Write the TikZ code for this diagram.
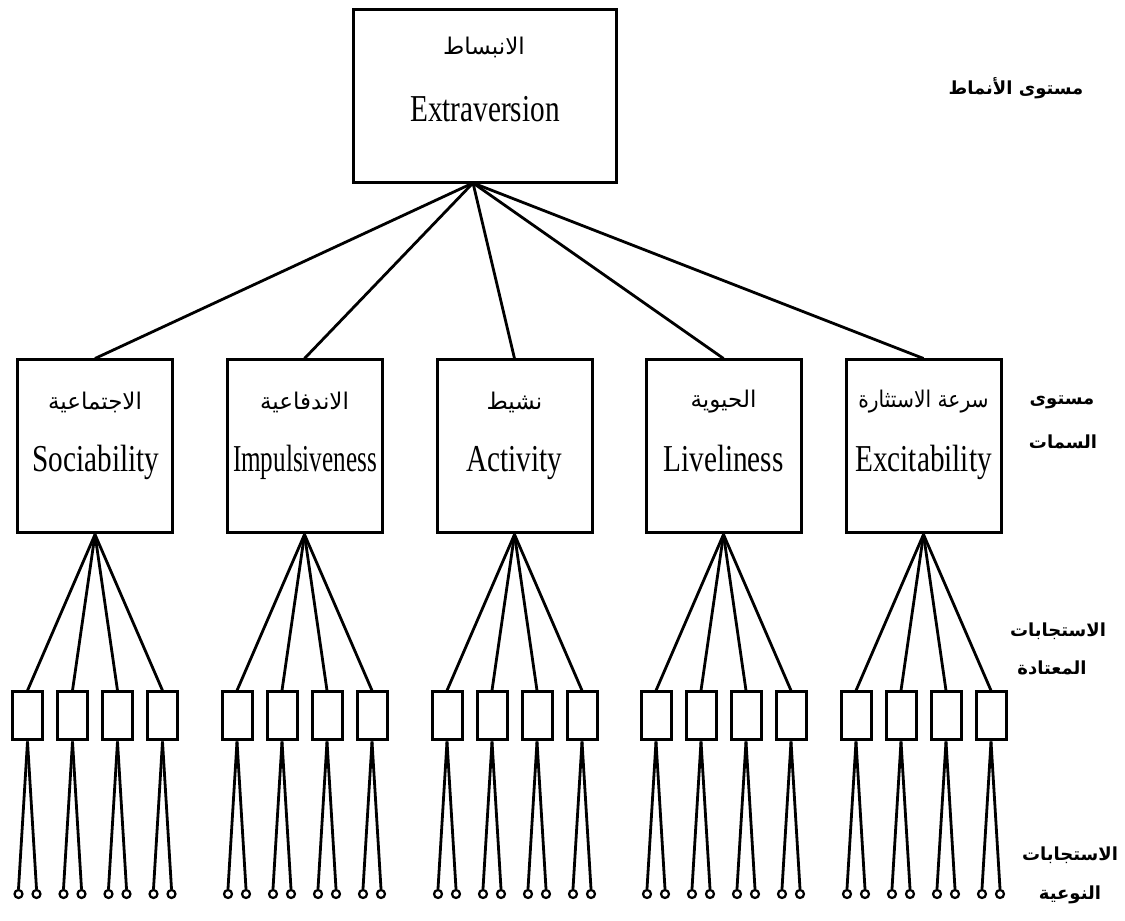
\documentclass[tikz,border=0pt]{standalone}
\usepackage{fontspec}
\usepackage{graphicx}
\TeXXeTstate=1
\newfontfamily\arabicfont[Script=Arabic]{DejaVu Sans}
\newfontfamily\engfont[FakeStretch=0.77]{Liberation Serif}
\tikzset{
  bigbox/.style={draw, line width=3pt, minimum width=263pt, minimum height=173pt, inner sep=0pt},
  traitbox/.style={draw, line width=3pt, minimum width=155pt, minimum height=173pt, inner sep=0pt},
  smallbox/.style={draw, line width=3pt, minimum width=30pt, minimum height=48pt, inner sep=0pt},
  leaf/.style={draw, circle, line width=2.2pt, minimum size=8pt, inner sep=0pt},
  conn/.style={line width=2.8pt},
  ar/.style={font=\arabicfont\fontsize{23}{27}\selectfont, inner sep=0pt},
  en/.style={font=\engfont\fontsize{38}{42}\selectfont, inner sep=0pt, anchor=base},
  lab/.style={font=\arabicfont\bfseries\fontsize{18}{22}\selectfont, inner sep=0pt}
}
\begin{document}
\begin{tikzpicture}[x=1pt,y=1pt]
\useasboundingbox (0,0) rectangle (1125,921);
\fill[white] (0,0) rectangle (1125,921);
% top level
\node[bigbox] (top) at (484.5,824.5) {};
\node[ar] (topar) at (484,874) {\beginR الانبساط\endR};
\node[en] (topen) at (485,799) {Extraversion};
\coordinate (hub) at (473,738);
% traits
\node[traitbox] (t1) at (95,474.5) {};
\node[traitbox] (t2) at (304.5,474.5) {};
\node[traitbox] (t3) at (514.5,474.5) {};
\node[traitbox] (t4) at (723.5,474.5) {};
\node[traitbox] (t5) at (923.5,474.5) {};
\node[ar] (a1) at (95,519) {\beginR الاجتماعية\endR};
\node[ar] (a2) at (304.5,519) {\beginR الاندفاعية\endR};
\node[ar] (a3) at (514.5,519) {\beginR نشيط\endR};
\node[ar] (a4) at (723.5,519) {\beginR الحيوية\endR};
\node[ar] (a5) at (923.5,519) {\scalebox{0.88}[1]{\beginR سرعة الاستثارة\endR}};
\node[en] (e1) at (96,449) {Sociability};
\node[en] (e2) at (305,449) {\scalebox{0.86}[1]{Impulsiveness}};
\node[en] (e3) at (514,449) {Activity};
\node[en] (e4) at (723.5,449) {Liveliness};
\node[en] (e5) at (923.5,449) {Excitability};
\foreach \i in {1,...,5} { \draw[conn] (hub) -- (t\i.north); }
% habitual and specific responses
\foreach \i/\x in {1/95,2/304.5,3/514.5,4/723.5,5/923.5} {
  \foreach \j/\dx in {1/-67.5,2/-22.5,3/22.5,4/67.5} {
    \node[smallbox] (s\i\j) at (\x+\dx,205) {};
    \draw[conn] (t\i.south) -- (s\i\j.north);
    \node[leaf] (c\i\j a) at (\x+\dx-9,27) {};
    \node[leaf] (c\i\j b) at (\x+\dx+9,27) {};
    \draw[conn] (s\i\j.south) -- (c\i\j a.north);
    \draw[conn] (s\i\j.south) -- (c\i\j b.north);
  }
}
% level labels
\node[lab] (l1) at (1016,833) {\beginR مستوى الأنماط\endR};
\node[lab] (l2a) at (1062,519) {\beginR مستوى\endR};
\node[lab] (l2b) at (1063,479) {\beginR السمات\endR};
\node[lab] (l3a) at (1058,290) {\beginR الاستجابات\endR};
\node[lab] (l3b) at (1052,253) {\beginR المعتادة\endR};
\node[lab] (l4a) at (1070,66) {\beginR الاستجابات\endR};
\node[lab] (l4b) at (1070,26) {\beginR النوعية\endR};
\end{tikzpicture}
\end{document}
